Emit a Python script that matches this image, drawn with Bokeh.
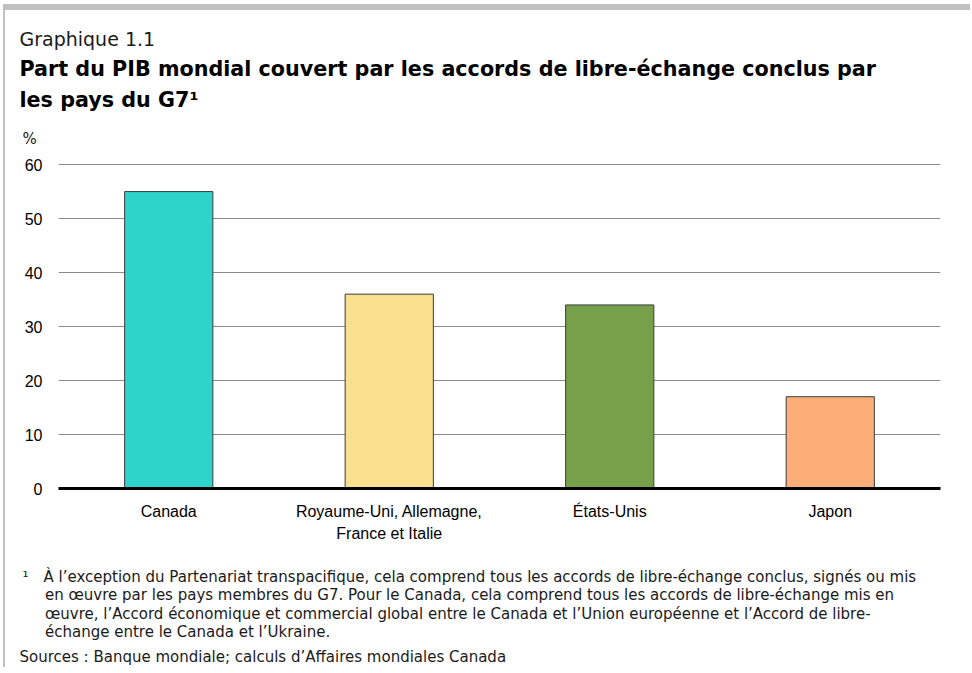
from bokeh.plotting import figure
from bokeh.models import ColumnDataSource, FactorRange, Range1d, FixedTicker, Title
from bokeh.embed import file_html
from bokeh.resources import INLINE

categories = ["Canada", "Royaume-Uni, Allemagne,\nFrance et Italie", "États-Unis", "Japon"]
values = [55, 36, 34, 17]
colors = ["#2ED3C9", "#F8E08E", "#77A04A", "#FDAE78"]
y_ticks = [0, 10, 20, 30, 40, 50, 60]

title_kicker = "Graphique 1.1"
title_lines = ["Part du PIB mondial couvert par les accords de libre-échange conclus par",
               "les pays du G7¹"]
unit_label = "%"
note_lines = [
    "À l’exception du Partenariat transpacifique, cela comprend tous les accords de libre-échange conclus, signés ou mis",
    "en œuvre par les pays membres du G7. Pour le Canada, cela comprend tous les accords de libre-échange mis en",
    "œuvre, l’Accord économique et commercial global entre le Canada et l’Union européenne et l’Accord de libre-",
    "échange entre le Canada et l’Ukraine.",
]
sources = "Sources : Banque mondiale; calculs d’Affaires mondiales Canada"

FONT = "DejaVu Sans"
GREY = "#c0c0c0"
# canvas origin on the page (after css margin + border)
OX, OY = 5, 10
W, H = 972 - OX, 673 - OY
# frame in page coordinates
FL, FR, FT, FB = 58, 940, 163, 488

src = ColumnDataSource(dict(cat=categories, val=values, color=colors))
p = figure(width=W, height=H, output_backend="svg", toolbar_location=None,
           x_range=FactorRange(*categories, range_padding=0), y_range=Range1d(0, 60.2),
           min_border_left=FL - OX, min_border_right=W - (FR - OX),
           min_border_top=FT - OY, min_border_bottom=H - (FB - OY))
p.styles = {"border-top": f"6px solid {GREY}", "border-left": f"2px solid {GREY}",
            "margin-top": "4px", "margin-left": "3px"}
p.outline_line_color = None
p.border_fill_color = "white"

p.vbar(x="cat", top="val", width=0.40, source=src, fill_color="color",
       line_color="#3a3a3a", line_width=1)

p.xgrid.grid_line_color = None
p.ygrid.grid_line_color = "#8a8a8a"
p.ygrid.grid_line_width = 1
p.yaxis.ticker = FixedTicker(ticks=y_ticks)
p.yaxis.axis_line_color = None
p.yaxis.major_tick_line_color = None
p.yaxis.major_tick_out = 0
p.yaxis.minor_tick_line_color = None
p.yaxis.major_label_standoff = 16
p.yaxis.major_label_text_font = "Liberation Sans"
p.yaxis.major_label_text_font_size = "16px"
p.yaxis.major_label_text_color = "#000000"
p.xaxis.axis_line_color = "#000000"
p.xaxis.axis_line_width = 3
p.xaxis.major_tick_line_color = None
p.xaxis.major_tick_out = 0
p.xaxis.minor_tick_line_color = None
p.xaxis.major_label_standoff = 14
p.xaxis.major_label_text_font = "Liberation Sans"
p.xaxis.major_label_text_font_size = "16px"
p.xaxis.major_label_text_color = "#000000"
p.xaxis.major_label_text_line_height = 1.3


def title(text, x_page, size, side, standoff, style="normal", line_height=1.2, color="#1a1a1a",
          font=FONT):
    t = Title(text=text, align="left", offset=x_page - FL, standoff=standoff,
              text_font=font, text_font_size=size, text_font_style=style,
              text_color=color, text_line_height=line_height,
              vertical_align="bottom" if side == "above" else "top")
    p.add_layout(t, side)


# above: first added sits closest to the frame
title(unit_label, 22, "15px", "above", 31)
title("\n".join(title_lines), 19, "20.7px", "above", 0, style="bold", line_height=1.333,
      color="#000000")
title(title_kicker, 19, "19px", "above", 9)

# below (after the x axis): a blank spacer, the note, then the sources
title("\u2002", 19, "10px", "below", 10)
EN = "\u2002"
notes = "\n".join(["¹" + EN * 2 + note_lines[0]] + [EN * 3 + s for s in note_lines[1:]])
title(notes, 22, "15px", "below", 0, line_height=1.035)
title(sources, 19, "15px", "below", 8)

open("out.html", "w").write(file_html(p, INLINE))
